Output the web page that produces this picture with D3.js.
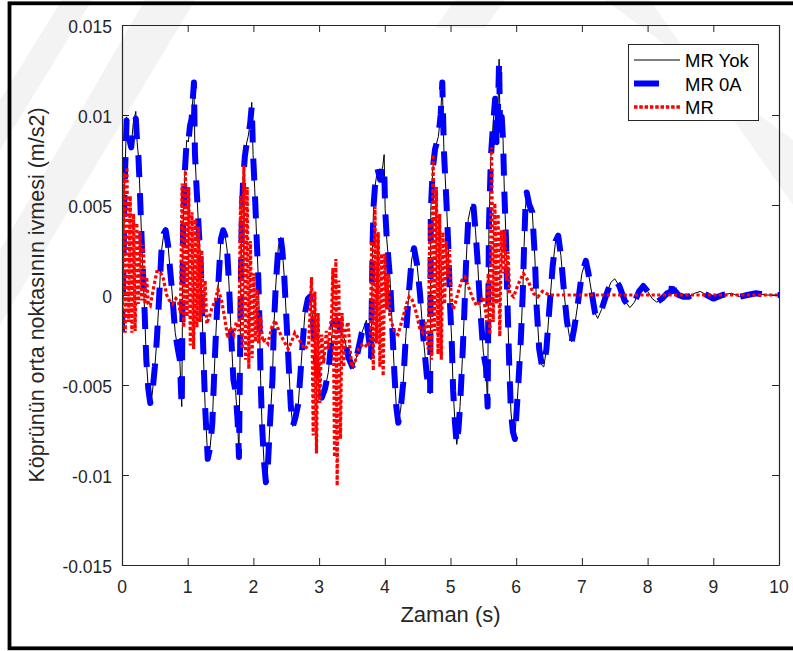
<!DOCTYPE html>
<html>
<head>
<meta charset="utf-8">
<script src="https://cdn.jsdelivr.net/npm/d3@7"></script>
<style>
  html, body { margin: 0; padding: 0; background: #fff; }
  svg { display: block; }
  text { font-family: "Liberation Sans", Arial, Helvetica, sans-serif; fill: #262626; }
</style>
</head>
<body>
<svg id="chart" width="793" height="651"></svg>
<script>
// ---------------- DATA ----------------
const timeYok = [0.00,0.02,0.04,0.07,0.10,0.14,0.17,0.21,0.23,0.25,0.27,0.30,0.32,0.345,0.37,0.40,0.43,0.46,0.50,0.53,0.56,0.60,0.635,0.665,0.70,0.73,0.755,0.81,0.85,0.88,0.90,0.91,0.92,0.93,0.96,0.985,1.01,1.035,1.06,1.08,1.095,1.11,1.13,1.16,1.20,1.22,1.24,1.265,1.305,1.34,1.375,1.40,1.43,1.465,1.505,1.54,1.57,1.60,1.63,1.66,1.695,1.73,1.76,1.78,1.795,1.81,1.825,1.845,1.87,1.90,1.92,1.95,1.975,1.995,2.02,2.05,2.075,2.095,2.11,2.13,2.16,2.19,2.22,2.25,2.29,2.31,2.34,2.38,2.415,2.44,2.47,2.505,2.54,2.57,2.60,2.64,2.685,2.735,2.785,2.83,2.86,2.90,2.95,3.00,3.04,3.09,3.14,3.215,3.27,3.33,3.39,3.45,3.52,3.58,3.65,3.72,3.76,3.79,3.80,3.815,3.83,3.85,3.89,3.93,3.97,3.99,4.005,4.03,4.08,4.115,4.145,4.175,4.205,4.24,4.28,4.32,4.37,4.41,4.445,4.49,4.535,4.585,4.64,4.69,4.695,4.70,4.73,4.765,4.815,4.85,4.875,4.90,4.94,4.97,4.99,5.02,5.04,5.07,5.095,5.12,5.145,5.18,5.21,5.235,5.27,5.31,5.35,5.38,5.41,5.45,5.50,5.54,5.565,5.575,5.585,5.615,5.65,5.68,5.70,5.72,5.74,5.755,5.78,5.80,5.82,5.845,5.86,5.88,5.895,5.92,5.95,5.98,6.00,6.03,6.07,6.10,6.12,6.14,6.16,6.20,6.245,6.285,6.31,6.35,6.39,6.42,6.46,6.50,6.555,6.60,6.64,6.68,6.72,6.77,6.81,6.845,6.89,6.945,7.00,7.06,7.10,7.15,7.20,7.24,7.30,7.37,7.44,7.50,7.57,7.65,7.73,7.80,7.87,7.935,8.00,8.07,8.14,8.22,8.30,8.36,8.38,8.40,8.47,8.55,8.62,8.72,8.80,8.90,9.00,9.14,9.28,9.40,9.52,9.65,9.80,10.0];

// "MR Yok" (black thin line)
const mrYok = [-0.0020,0.0010,0.0060,0.0099,0.0088,0.0082,0.0095,0.0102,0.0085,0.0077,0.0060,0.0030,0.0012,-0.0010,-0.0036,-0.0052,-0.0060,-0.0055,-0.0040,-0.0025,-0.0005,0.0024,0.0034,0.0036,0.0028,0.0015,0.0005,-0.0021,-0.0030,-0.0036,-0.0055,-0.0062,-0.0010,0.0038,0.0071,0.0086,0.0085,0.0094,0.0098,0.0110,0.0118,0.0079,0.0063,0.0042,0.0016,-0.0010,-0.0034,-0.0062,-0.0091,-0.0085,-0.0071,-0.0047,-0.0021,0.0005,0.0031,0.0036,0.0033,0.0025,0.0005,-0.0021,-0.0047,-0.0054,-0.0070,-0.0090,-0.0040,0.0010,0.0046,0.0065,0.0077,0.0085,0.0088,0.0095,0.0107,0.0078,0.0059,0.0031,0.0009,-0.0019,-0.0047,-0.0071,-0.0092,-0.0104,-0.0095,-0.0073,-0.0047,-0.0019,0.0005,0.0027,0.0032,0.0025,0.0010,-0.0015,-0.0041,-0.0062,-0.0073,-0.0068,-0.0060,-0.0034,-0.0010,-0.0002,-0.0001,-0.0012,-0.0035,-0.0052,-0.0057,-0.0052,-0.0043,-0.0015,-0.0014,-0.0020,-0.0025,-0.0035,-0.0041,-0.0033,-0.0021,-0.0014,-0.0025,-0.0036,-0.0010,0.0030,0.0050,0.0060,0.0070,0.0064,0.0072,0.0078,0.0048,0.0031,0.0009,-0.0019,-0.0043,-0.0062,-0.0071,-0.0064,-0.0049,-0.0023,0.0003,0.0020,0.0026,0.0017,0.0001,-0.0023,-0.0045,-0.0055,-0.0020,0.0047,0.0070,0.0081,0.0088,0.0100,0.0118,0.0080,0.0050,0.0024,-0.0003,-0.0027,-0.0053,-0.0072,-0.0083,-0.0075,-0.0062,-0.0036,-0.0010,0.0016,0.0042,0.0049,0.0049,0.0036,0.0020,-0.0006,-0.0032,-0.0040,-0.0062,-0.0010,0.0038,0.0077,0.0096,0.0109,0.0085,0.0100,0.0131,0.0090,0.0099,0.0086,0.0057,0.0031,0.0005,-0.0021,-0.0040,-0.0065,-0.0076,-0.0080,-0.0068,-0.0051,-0.0025,0.0001,0.0027,0.0048,0.0057,0.0050,0.0046,0.0020,-0.0006,-0.0030,-0.0039,-0.0040,-0.0030,-0.0010,0.0016,0.0030,0.0033,0.0022,0.0005,-0.0014,-0.0023,-0.0026,-0.0017,-0.0003,0.0012,0.0019,0.0012,0.0001,-0.0010,-0.0013,-0.0008,0.0000,0.0007,0.0009,0.0005,-0.0003,-0.0007,-0.0004,0.0002,0.0005,0.0002,-0.0002,-0.0004,-0.0002,0.0001,0.0002,0.0002,0.0001,0.0000,-0.0001,-0.0001,0.0001,0.0002,0.0000,-0.0002,0.0000,0.0001,-0.0001,0.0000,0.0001,0.0000,0.0000];

// "MR 0A" (blue thick dashed line)
const mr0A = [-0.0020,0.0010,0.0060,0.0097,0.0088,0.0082,0.0093,0.0098,0.0085,0.0077,0.0060,0.0030,0.0012,-0.0010,-0.0036,-0.0052,-0.0060,-0.0055,-0.0040,-0.0025,-0.0005,0.0024,0.0034,0.0036,0.0028,0.0015,0.0005,-0.0021,-0.0030,-0.0036,-0.0055,-0.0062,-0.0010,0.0038,0.0071,0.0086,0.0085,0.0094,0.0098,0.0110,0.0118,0.0079,0.0063,0.0042,0.0016,-0.0010,-0.0034,-0.0062,-0.0091,-0.0085,-0.0071,-0.0047,-0.0021,0.0005,0.0031,0.0036,0.0033,0.0025,0.0005,-0.0021,-0.0047,-0.0054,-0.0070,-0.0090,-0.0040,0.0010,0.0046,0.0065,0.0077,0.0085,0.0088,0.0095,0.0105,0.0078,0.0059,0.0031,0.0009,-0.0019,-0.0047,-0.0071,-0.0092,-0.0104,-0.0095,-0.0073,-0.0047,-0.0019,0.0005,0.0027,0.0032,0.0025,0.0010,-0.0015,-0.0041,-0.0062,-0.0073,-0.0068,-0.0060,-0.0034,-0.0010,-0.0002,-0.0001,-0.0012,-0.0035,-0.0052,-0.0057,-0.0052,-0.0043,-0.0015,-0.0014,-0.0020,-0.0025,-0.0035,-0.0041,-0.0033,-0.0021,-0.0014,-0.0025,-0.0036,-0.0010,0.0030,0.0050,0.0060,0.0070,0.0064,0.0072,0.0072,0.0048,0.0031,0.0009,-0.0019,-0.0043,-0.0062,-0.0071,-0.0064,-0.0049,-0.0023,0.0003,0.0020,0.0026,0.0017,0.0001,-0.0023,-0.0045,-0.0055,-0.0020,0.0047,0.0070,0.0081,0.0088,0.0100,0.0118,0.0080,0.0050,0.0024,-0.0003,-0.0027,-0.0053,-0.0072,-0.0083,-0.0075,-0.0062,-0.0036,-0.0010,0.0016,0.0042,0.0049,0.0049,0.0036,0.0020,-0.0006,-0.0032,-0.0040,-0.0062,-0.0010,0.0038,0.0077,0.0096,0.0109,0.0085,0.0100,0.0130,0.0090,0.0099,0.0086,0.0057,0.0031,0.0005,-0.0021,-0.0040,-0.0065,-0.0076,-0.0080,-0.0068,-0.0051,-0.0025,0.0001,0.0027,0.0048,0.0057,0.0050,0.0046,0.0020,-0.0006,-0.0030,-0.0039,-0.0040,-0.0030,-0.0010,0.0016,0.0030,0.0033,0.0022,0.0005,-0.0014,-0.0023,-0.0026,-0.0017,-0.0003,0.0012,0.0019,0.0012,0.0001,-0.0010,-0.0013,-0.0008,0.0000,0.0007,0.0009,0.0005,-0.0003,-0.0007,-0.0004,0.0002,0.0005,0.0002,-0.0002,-0.0004,-0.0002,0.0001,0.0002,0.0009,0.0003,0.0000,-0.0001,-0.0001,0.0001,0.0002,0.0000,-0.0002,0.0000,0.0001,-0.0001,0.0000,0.0001,0.0000,0.0000];

// "MR" (red dotted line)
const timeMR = [0.00,0.025,0.05,0.075,0.10,0.125,0.15,0.175,0.20,0.225,0.25,0.275,0.30,0.325,0.35,0.375,0.40,0.43,0.48,0.53,0.58,0.63,0.68,0.72,0.77,0.82,0.86,0.89,0.915,0.94,0.965,0.99,1.015,1.04,1.065,1.09,1.115,1.14,1.165,1.19,1.215,1.24,1.265,1.29,1.33,1.37,1.42,1.46,1.51,1.56,1.61,1.65,1.70,1.74,1.78,1.805,1.83,1.855,1.88,1.905,1.93,1.955,1.98,2.005,2.03,2.055,2.08,2.11,2.14,2.18,2.22,2.28,2.33,2.39,2.455,2.53,2.58,2.63,2.70,2.78,2.84,2.86,2.885,2.91,2.935,2.96,2.985,3.01,3.04,3.07,3.11,3.14,3.17,3.19,3.21,3.235,3.255,3.275,3.30,3.325,3.35,3.375,3.40,3.44,3.47,3.50,3.54,3.60,3.67,3.74,3.78,3.80,3.825,3.85,3.875,3.90,3.925,3.95,3.975,4.00,4.025,4.05,4.075,4.10,4.155,4.20,4.28,4.33,4.37,4.42,4.48,4.535,4.58,4.62,4.66,4.685,4.71,4.735,4.76,4.785,4.81,4.835,4.86,4.885,4.91,4.935,4.96,4.985,5.01,5.04,5.07,5.12,5.17,5.22,5.28,5.34,5.40,5.46,5.50,5.53,5.55,5.575,5.60,5.625,5.65,5.675,5.70,5.725,5.75,5.775,5.80,5.825,5.85,5.875,5.90,5.96,6.03,6.11,6.18,6.26,6.33,6.40,6.45,6.50,7.00,8.00,9.00,10.0];
const mrValues = [-0.0021,0.0068,-0.0021,0.0071,-0.0015,0.0055,-0.0021,0.0045,-0.0020,0.0040,-0.0005,0.0035,-0.0003,0.0028,-0.0005,0.0010,-0.0005,-0.0006,0.0004,0.0013,0.0013,0.0009,0.0000,-0.0003,-0.0005,-0.0002,-0.0004,-0.0010,0.0062,-0.0018,0.0069,-0.0012,0.0060,-0.0028,0.0046,-0.0030,0.0042,-0.0018,0.0038,-0.0015,0.0025,-0.0010,0.0008,-0.0016,-0.0012,-0.0007,-0.0003,0.0003,-0.0002,-0.0012,-0.0024,-0.0018,-0.0022,-0.0015,-0.0020,0.0055,-0.0030,0.0072,-0.0036,0.0060,-0.0041,0.0030,-0.0035,0.0012,-0.0026,0.0003,-0.0027,-0.0012,-0.0026,-0.0025,-0.0027,-0.0018,-0.0014,-0.0020,-0.0025,-0.0030,-0.0026,-0.0021,-0.0025,-0.0030,-0.0028,-0.0012,0.0010,-0.0078,0.0002,-0.0088,-0.0010,-0.0060,-0.0022,-0.0038,-0.0020,-0.0030,-0.0018,-0.0012,0.0015,-0.0090,0.0020,-0.0106,0.0008,-0.0080,-0.0010,-0.0040,-0.0020,-0.0015,-0.0030,-0.0040,-0.0038,-0.0030,-0.0027,-0.0029,-0.0025,0.0030,-0.0042,0.0049,-0.0027,0.0035,-0.0040,0.0023,-0.0045,0.0023,-0.0008,0.0012,-0.0012,-0.0015,-0.0021,-0.0022,-0.0012,-0.0005,-0.0001,-0.0003,-0.0010,-0.0019,-0.0021,-0.0015,-0.0030,0.0040,-0.0036,0.0078,-0.0020,0.0060,-0.0033,0.0045,-0.0036,0.0035,-0.0005,0.0030,0.0010,0.0025,-0.0001,-0.0008,-0.0005,0.0002,0.0008,0.0010,0.0004,-0.0002,-0.0006,-0.0003,-0.0001,-0.0008,-0.0015,0.0012,-0.0022,0.0082,-0.0015,0.0051,-0.0005,0.0045,-0.0023,0.0036,0.0012,0.0036,0.0008,0.0024,0.0001,-0.0001,0.0006,0.0012,0.0008,0.0001,-0.0001,0.0002,0.0001,0.0000,0.0000,0.0000,0.0000,0.0000];

const xTicks = [0,1,2,3,4,5,6,7,8,9,10];
const yTicks = [-0.015,-0.01,-0.005,0,0.005,0.01,0.015];
const yTickLabels = ["-0.015","-0.01","-0.005","0","0.005","0.01","0.015"];
const seriesNames = ["MR Yok","MR 0A","MR"];
const xLabel = "Zaman (s)";
const yLabel = "Köprünün orta noktasının ivmesi (m/s2)";

// ---------------- LAYOUT ----------------
const svg = d3.select("#chart");
const L = 122, R = 779, T = 25, B = 565;
const x = d3.scaleLinear().domain([0, 10]).range([L, R]);
const y = d3.scaleLinear().domain([-0.015, 0.015]).range([B, T]);

svg.append("rect").attr("width", 793).attr("height", 651).attr("fill", "#fff");

// faint watermark bands
const wm = svg.append("g").attr("fill", "#000").attr("opacity", 0.045);
[
  [[0,100],[0,150],[92,0],[62,0]],
  [[0,250],[0,325],[195,0],[145,0]],
  [[605,0],[650,0],[793,205],[793,140]],
  [[455,0],[505,0],[485,28],[435,28]]
].forEach(p => wm.append("polygon").attr("points", p.map(d => d.join(",")).join(" ")));

// clip
svg.append("clipPath").attr("id", "clip")
  .append("rect").attr("x", L).attr("y", T).attr("width", R - L).attr("height", B - T);

const line = (ts, vs) => d3.line().x((d, i) => x(ts[i])).y(d => y(d))(vs);
const plot = svg.append("g").attr("clip-path", "url(#clip)");

plot.append("path").attr("d", line(timeYok, mrYok))
  .attr("fill", "none").attr("stroke", "#000").attr("stroke-width", 1);
plot.append("path").attr("d", line(timeYok, mr0A))
  .attr("fill", "none").attr("stroke", "#0000ff").attr("stroke-width", 6)
  .attr("stroke-dasharray", "22,16").attr("stroke-linejoin", "round");
plot.append("path").attr("d", line(timeMR, mrValues))
  .attr("fill", "none").attr("stroke", "#ff0000").attr("stroke-width", 3.2)
  .attr("stroke-dasharray", "3.2,2.4");

// axes (ticks inward, box)
const axisColor = "#262626";
function styleAxis(g) {
  g.selectAll("path.domain").attr("stroke", axisColor).attr("stroke-width", 1.2);
  g.selectAll(".tick line").attr("stroke", axisColor).attr("stroke-width", 1);
  g.selectAll(".tick text").remove();
}
svg.append("g").attr("transform", `translate(0,${B})`)
  .call(d3.axisBottom(x).tickValues(xTicks).tickSizeInner(-7).tickSizeOuter(0)).call(styleAxis);
svg.append("g").attr("transform", `translate(0,${T})`)
  .call(d3.axisTop(x).tickValues(xTicks).tickSizeInner(-7).tickSizeOuter(0)).call(styleAxis);
svg.append("g").attr("transform", `translate(${L},0)`)
  .call(d3.axisLeft(y).tickValues(yTicks).tickSizeInner(-7).tickSizeOuter(0)).call(styleAxis);
svg.append("g").attr("transform", `translate(${R},0)`)
  .call(d3.axisRight(y).tickValues(yTicks).tickSizeInner(-7).tickSizeOuter(0)).call(styleAxis);

// tick labels
svg.append("g").selectAll("text").data(xTicks).join("text")
  .attr("x", d => x(d)).attr("y", 593).attr("text-anchor", "middle")
  .attr("font-size", 17.5).text(d => d);
svg.append("g").selectAll("text").data(yTicks).join("text")
  .attr("x", 112).attr("y", d => y(d) + 7.5).attr("text-anchor", "end")
  .attr("font-size", 17.5).text((d, i) => yTickLabels[i]);

// axis labels
svg.append("text").attr("x", (L + R) / 2).attr("y", 622).attr("text-anchor", "middle")
  .attr("font-size", 22).text(xLabel);
svg.append("text").attr("transform", `translate(44,${(T + B) / 2}) rotate(-90)`)
  .attr("text-anchor", "middle").attr("font-size", 21.5).text(yLabel);

// legend
const lg = svg.append("g");
lg.append("rect").attr("x", 628.5).attr("y", 44.5).attr("width", 130).attr("height", 76)
  .attr("fill", "#fff").attr("stroke", axisColor).attr("stroke-width", 1);
const legY = [60, 83.5, 107];
const legStyles = [
  {stroke: "#000", w: 1, dash: null},
  {stroke: "#0000ff", w: 6, dash: "25,40"},
  {stroke: "#ff0000", w: 3.5, dash: "3.5,1.8"}
];
seriesNames.forEach((name, i) => {
  const l = lg.append("line").attr("x1", 634).attr("x2", 680)
    .attr("y1", legY[i]).attr("y2", legY[i])
    .attr("stroke", legStyles[i].stroke).attr("stroke-width", legStyles[i].w);
  if (legStyles[i].dash) l.attr("stroke-dasharray", legStyles[i].dash);
  lg.append("text").attr("x", 685).attr("y", legY[i] + 7).attr("font-size", 18.5)
    .style("fill", "#000").text(name);
});

// outer frame
svg.append("rect").attr("x", 9.5).attr("y", 3.3).attr("width", 800).attr("height", 645)
  .attr("fill", "none").attr("stroke", "#000").attr("stroke-width", 3.8);
</script>
</body>
</html>
